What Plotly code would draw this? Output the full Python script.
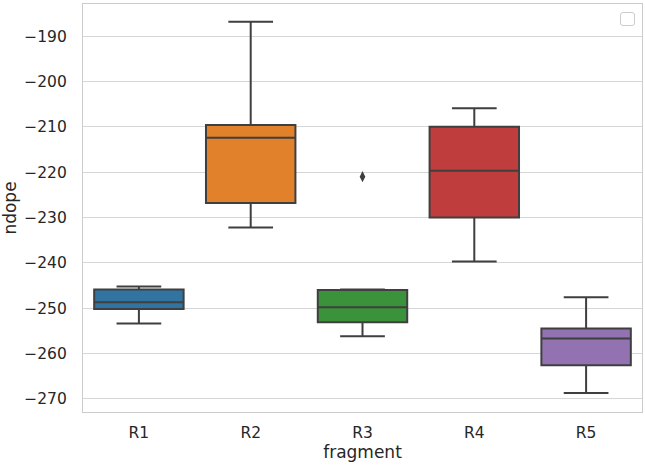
import plotly.graph_objects as go

categories = ["R1", "R2", "R3", "R4", "R5"]
lower_whisker = [-253.4, -232.2, -256.2, -239.7, -268.7]
q1 = [-250.2, -226.8, -253.1, -230.0, -262.6]
median = [-248.7, -212.4, -249.8, -219.7, -256.7]
q3 = [-245.9, -209.6, -246.0, -210.0, -254.5]
upper_whisker = [-245.2, -186.8, -245.9, -205.9, -247.6]
outlier_cat = ["R3"]
outlier_val = [-221.0]
colors = ["#3274a1", "#e1812c", "#3a923a", "#c03d3e", "#9372b2"]

edge = "#3f3f3f"
fig = go.Figure()
for i, c in enumerate(categories):
    fig.add_trace(go.Box(
        x=[c], q1=[q1[i]], median=[median[i]], q3=[q3[i]],
        lowerfence=[lower_whisker[i]], upperfence=[upper_whisker[i]],
        fillcolor=colors[i], line=dict(color=edge, width=2),
        width=0.8, whiskerwidth=0.5, boxpoints=False, showlegend=False,
        hoverinfo="skip"))

fig.add_trace(go.Scatter(
    x=outlier_cat, y=outlier_val, mode="markers",
    marker=dict(symbol="diamond-tall", size=8, color=edge, line=dict(width=0)),
    showlegend=False, hoverinfo="skip"))

W, H = 645, 466
L, R, T, B = 83, 3, 4, 54
pw, ph = W - L - R, H - T - B

def px2paper(x, y):
    return (x - L) / pw, 1 - (y - T) / ph

x0, y0 = px2paper(620.5, 12.5)
x1, y1 = px2paper(634.5, 25.5)
rx = 2.5 / pw
ry = 2.5 / ph
path = (f"M {x0+rx},{y0} L {x1-rx},{y0} Q {x1},{y0} {x1},{y0-ry} "
        f"L {x1},{y1+ry} Q {x1},{y1} {x1-rx},{y1} L {x0+rx},{y1} "
        f"Q {x0},{y1} {x0},{y1+ry} L {x0},{y0-ry} Q {x0},{y0} {x0+rx},{y0} Z")

fig.update_layout(
    width=W, height=H,
    margin=dict(l=L, r=R, t=T, b=B),
    paper_bgcolor="white", plot_bgcolor="white",
    boxmode="overlay",
    font=dict(family="DejaVu Sans", size=15.5, color="#262626"),
    shapes=[dict(type="path", xref="paper", yref="paper", path=path,
                 line=dict(color="#cccccc", width=1), fillcolor="white")],
    xaxis=dict(
        categoryorder="array", categoryarray=categories,
        range=[-0.5, 4.5], showgrid=False, zeroline=False,
        showline=True, linecolor="#cccccc", linewidth=1.2, mirror=True,
        ticks="", ticklabelstandoff=6,
        title=dict(text="fragment", standoff=4, font=dict(size=17)),
        tickfont=dict(size=15.5)),
    yaxis=dict(
        range=[-272.9, -182.9], tickvals=[-270, -260, -250, -240, -230, -220, -210, -200, -190],
        showgrid=True, gridcolor="#d6d6d6", gridwidth=1, zeroline=False,
        showline=True, linecolor="#cccccc", linewidth=1.2, mirror=True,
        ticks="", ticklabelstandoff=12,
        title=dict(text="ndope", standoff=4, font=dict(size=17)),
        tickfont=dict(size=15.5)),
)

fig.write_html("out.html", config={"displayModeBar": False},
               post_script="document.body.style.margin='0';document.body.style.overflow='hidden';")
